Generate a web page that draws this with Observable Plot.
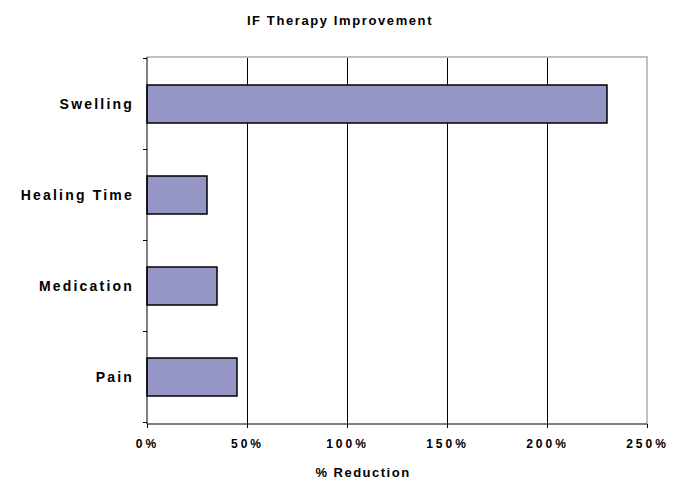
<!DOCTYPE html>
<html><head><meta charset="utf-8">
<script src="https://cdn.jsdelivr.net/npm/d3@7"></script>
<script src="https://cdn.jsdelivr.net/npm/@observablehq/plot@0.6"></script>
<style>
body{margin:0;background:#fff;font-family:"Liberation Sans",Arial,sans-serif;width:680px;}
#title{height:40px;box-sizing:border-box;padding-top:14px;text-align:center;font-weight:bold;font-size:13px;line-height:13px;letter-spacing:1.6px;color:#000;}
#cap{height:23px;box-sizing:border-box;padding-top:6px;padding-left:46px;text-align:center;font-weight:bold;font-size:13px;line-height:13px;letter-spacing:1.5px;color:#000;}
#chart svg{display:block;}
</style></head><body>
<div id="title"></div>
<div id="chart"></div>
<div id="cap"></div>
<script>
const title = "IF Therapy Improvement";
const xLabel = "% Reduction";
const categories = ["Swelling", "Healing Time", "Medication", "Pain"];
const reductions = [2.30, 0.30, 0.35, 0.45];
const xTicks = [0, 0.5, 1, 1.5, 2, 2.5];
const gridTicks = [0.5, 1, 1.5, 2];
const xMax = 2.5;

document.getElementById("title").textContent = title;
document.getElementById("cap").textContent = xLabel;

const data = categories.map((c, i) => ({category: c, value: reductions[i]}));

function frameMark(...args) {
  const s = args.find(a => a && typeof a.x === "function" && typeof a.y === "function");
  const d = args.find(a => a && typeof a === "object" && "marginLeft" in a && "width" in a);
  const g = d3.create("svg:g");
  const x = s.x, y = s.y;
  const top = d.marginTop, bottom = d.height - d.marginBottom;
  const x0 = x(0), x1 = x(xMax);
  const n = categories.length;
  const step = (y.step ? y.step() : (bottom - top) / n);
  const bw = (y.bandwidth ? y.bandwidth() : step * 0.42);
  const bounds = categories.map(c => y(c) - (step - bw) / 2);
  bounds.push(y(categories[n - 1]) + bw + (step - bw) / 2);
  g.append("path").attr("d", `M${x0},${top}H${x1}V${bottom}`)
    .attr("fill", "none").attr("stroke", "#c0c0c0").attr("stroke-width", 2);
  g.append("path").attr("d", `M${x0},${top}V${bottom}H${x1}`)
    .attr("fill", "none").attr("stroke", "#000").attr("stroke-width", 1);
  for (const b of bounds) {
    g.append("line").attr("x1", x0 - 4).attr("x2", x0).attr("y1", b).attr("y2", b)
      .attr("stroke", "#000");
  }
  return g.node();
}

const svg = Plot.plot({
  width: 680,
  height: 420,
  marginTop: 17,
  marginBottom: 36,
  marginLeft: 147,
  marginRight: 33,
  style: {fontFamily: '"Liberation Sans", Arial, sans-serif', fontWeight: "bold", color: "#000", background: "#fff", overflow: "visible"},
  x: {domain: [0, xMax], ticks: xTicks, tickFormat: d3.format(".0%"), tickSize: 4, tickPadding: 11, label: null},
  y: {domain: categories, paddingInner: 0.58, paddingOuter: 0.29, tickSize: 0, tickPadding: 13.5, label: null},
  marks: [
    Plot.ruleX(gridTicks, {stroke: "#000", strokeWidth: 1}),
    Plot.barX(data, {x: "value", y: "category", fill: "#9595c6", stroke: "#000", strokeWidth: 1.5}),
    frameMark
  ]
});
document.getElementById("chart").appendChild(svg);

svg.querySelectorAll('[aria-label="x-axis"] text, [aria-label="x-axis tick label"] text').forEach(t => {
  t.style.fontSize = "12px"; t.style.letterSpacing = "3px";
});
svg.querySelectorAll('[aria-label="y-axis"] text, [aria-label="y-axis tick label"] text').forEach(t => {
  t.style.fontSize = "14px"; t.style.letterSpacing = "2.2px";
});
svg.querySelectorAll('[aria-label="x-axis"] line, [aria-label="x-axis"] path, [aria-label="x-axis tick"] path').forEach(l => {
  l.setAttribute("stroke", "#000");
});
</script>
</body></html>
